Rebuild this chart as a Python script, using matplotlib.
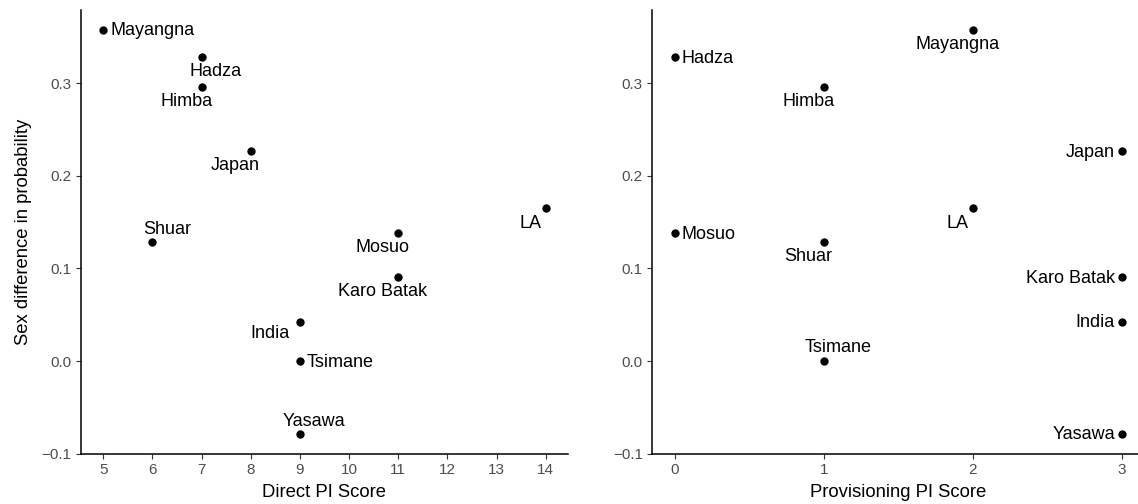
import matplotlib
matplotlib.use("Agg")
import matplotlib.pyplot as plt

plt.rcParams['font.family'] = ['Liberation Sans', 'DejaVu Sans']

# societies and their scores
societies = ["Mayangna", "Hadza", "Himba", "Japan", "LA", "Mosuo",
             "Shuar", "Karo Batak", "India", "Tsimane", "Yasawa"]
direct_pi = [5, 7, 7, 8, 14, 11, 6, 11, 9, 9, 9]
provisioning_pi = [2, 0, 1, 3, 2, 0, 1, 3, 3, 1, 3]
sex_diff = [0.358, 0.329, 0.296, 0.227, 0.165, 0.138,
            0.129, 0.091, 0.042, 0.0, -0.079]

# label placement: (dx, dy) in pixels, horizontal alignment
direct_labels = {
    "Mayangna": (7, -1, "left"), "Hadza": (14.5, -14.4, "center"),
    "Himba": (-15.3, -14.4, "center"), "Japan": (-15.6, -14.4, "center"),
    "LA": (-15.3, -15, "center"), "Mosuo": (-15.4, -14, "center"),
    "Shuar": (14.6, 12, "center"), "Karo Batak": (-15.4, -14.4, "center"),
    "India": (-10.5, -11, "right"), "Tsimane": (7, -1, "left"),
    "Yasawa": (14, 12.6, "center"),
}
prov_labels = {
    "Mayangna": (-15.3, -15, "center"), "Hadza": (7, -1.5, "left"),
    "Himba": (-15.6, -14.4, "center"), "Japan": (-7, -1.5, "right"),
    "LA": (-15.3, -15, "center"), "Mosuo": (7, -1, "left"),
    "Shuar": (-15.6, -14.7, "center"), "Karo Batak": (-7, -1.5, "right"),
    "India": (-7, -0.5, "right"), "Tsimane": (14, 13.7, "center"),
    "Yasawa": (-7, -0.5, "right"),
}

fig = plt.figure(figsize=(11.38, 5.04), dpi=100)
ax1 = fig.add_axes([81 / 1138, 50 / 504, 487 / 1138, 444 / 504])
# right panel runs a little past the figure edge
ax2 = fig.add_axes([652.3 / 1138, 50 / 504, 492.1 / 1138, 444 / 504])


def style(ax, xticks, xlabel):
    for s in ["top", "right"]:
        ax.spines[s].set_visible(False)
    for s in ["left", "bottom"]:
        ax.spines[s].set_linewidth(1.1)
        ax.spines[s].set_color("black")
    ax.set_xticks(xticks)
    ax.set_yticks([-0.1, 0.0, 0.1, 0.2, 0.3])
    ax.set_yticklabels(["\u22120.1", "0.0", "0.1", "0.2", "0.3"])
    ax.tick_params(length=3.8, width=0.8, color="#333333",
                   labelcolor="#4D4D4D", labelsize=11, pad=3)
    ax.set_xlabel(xlabel, fontsize=13.3, labelpad=5)
    ax.set_ylim(-0.1005, 0.3794)


def draw(ax, xs, placement):
    ax.scatter(xs, sex_diff, s=36, color="black", zorder=3, linewidths=0)
    for name, x, y in zip(societies, xs, sex_diff):
        dx, dy, ha = placement[name]
        ax.annotate(name, (x, y), xytext=(dx, dy), textcoords="offset pixels",
                    ha=ha, va="center", fontsize=13, color="black")


draw(ax1, direct_pi, direct_labels)
style(ax1, range(5, 15), "Direct PI Score")
ax1.set_xlim(4.55, 14.45)
ax1.set_ylabel("Sex difference in probability", fontsize=13.3, labelpad=7)

draw(ax2, provisioning_pi, prov_labels)
style(ax2, range(0, 4), "Provisioning PI Score")
ax2.set_xlim(-0.15, 3.15)

fig.savefig("out.png", dpi=100)
